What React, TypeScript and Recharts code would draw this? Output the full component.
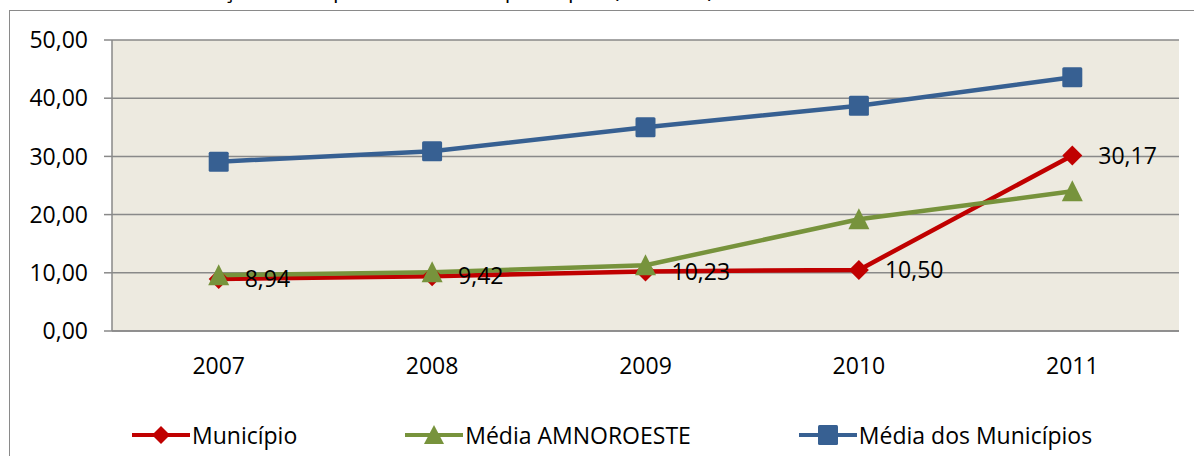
import React from 'react'
import { LineChart, Line, XAxis, YAxis, CartesianGrid, Legend, LabelList } from 'recharts'

const years = ['2007', '2008', '2009', '2010', '2011']
const municipio = [8.94, 9.42, 10.23, 10.5, 30.17]
const mediaAmnoroeste = [9.6, 10.1, 11.3, 19.2, 24.0]
const mediaMunicipios = [29.1, 30.9, 35.0, 38.7, 43.6]
const yTicks = [0, 10, 20, 30, 40, 50]
const yearTicks = [0, 1, 2, 3, 4]
const boundaryTicks = [-0.5, 0.5, 1.5, 2.5, 3.5, 4.5]

const RED = '#C00000'
const GREEN = '#77933C'
const BLUE = '#376092'
const GRID = '#898989'
const FONT = '"Open Sans", sans-serif'

const data = years.map((y, i) => ({
  idx: i,
  year: y,
  municipio: municipio[i],
  amnoroeste: mediaAmnoroeste[i],
  municipios: mediaMunicipios[i],
}))

const fmt = (v: number) => v.toFixed(2).replace('.', ',')

const Diamond = (props: any) => {
  const { cx, cy } = props
  if (cx == null || cy == null) return null
  const r = 10
  return <path d={`M${cx},${cy - r}L${cx + r},${cy}L${cx},${cy + r}L${cx - r},${cy}Z`} fill={RED} />
}

const Triangle = (props: any) => {
  const { cx, cy } = props
  if (cx == null || cy == null) return null
  return <path d={`M${cx},${cy - 11}L${cx + 10.5},${cy + 10}L${cx - 10.5},${cy + 10}Z`} fill={GREEN} />
}

const Square = (props: any) => {
  const { cx, cy } = props
  if (cx == null || cy == null) return null
  return <rect x={cx - 10} y={cy - 10} width={20} height={20} rx={1.5} fill={BLUE} />
}

const legendItems = [
  { name: 'Município', color: RED, shape: 'diamond' },
  { name: 'Média AMNOROESTE', color: GREEN, shape: 'triangle' },
  { name: 'Média dos Municípios', color: BLUE, shape: 'square' },
]

const LegendIcon = ({ color, shape }: { color: string; shape: string }) => (
  <svg width={60} height={24} style={{ display: 'block' }}>
    <line x1={1} y1={12} x2={59} y2={12} stroke={color} strokeWidth={4} />
    {shape === 'diamond' && <path d="M30,3L39,12L30,21L21,12Z" fill={color} />}
    {shape === 'triangle' && <path d="M30,2L40,21L20,21Z" fill={color} />}
    {shape === 'square' && <rect x={20} y={2} width={20} height={20} rx={1.5} fill={color} />}
  </svg>
)

const renderLegend = () => (
  <div style={{ display: 'flex', paddingLeft: 131, paddingTop: 17, fontFamily: FONT, fontSize: 23, color: '#000' }}>
    {legendItems.map((it, i) => (
      <div key={it.name} style={{ display: 'flex', alignItems: 'center', marginLeft: i === 0 ? 0 : 107 }}>
        <LegendIcon color={it.color} shape={it.shape} />
        <span style={{ marginLeft: 1, lineHeight: '24px' }}>{it.name}</span>
      </div>
    ))}
  </div>
)

export default function App() {
  return (
    <div style={{ position: 'fixed', left: 0, top: 0, width: 1194, height: 456, overflow: 'hidden', background: '#fff' }}>
      <div
        style={{
          position: 'absolute',
          left: 9,
          top: 10,
          width: 1200,
          height: 460,
          border: '1.5px solid #8a8a8a',
          boxSizing: 'border-box',
        }}
      />
      {/* title is mostly cropped off in the source image */}
      <div
        style={{
          position: 'absolute',
          left: 168,
          top: -26,
          fontFamily: FONT,
          fontSize: 22,
          whiteSpace: 'nowrap',
          color: '#000',
        }}
      >
        Evolução da despesa com saúde per capita (em reais)
      </div>
      <div style={{ position: 'absolute', left: 0, top: 0 }}>
        <LineChart width={1194} height={456} data={data} margin={{ top: 40, right: 15, bottom: 0, left: 0 }}>
          <CartesianGrid horizontal vertical={false} stroke={GRID} strokeWidth={1.5} fill="#EDEAE0" fillOpacity={1} />
          <XAxis
            xAxisId="b"
            dataKey="idx"
            type="number"
            domain={[-0.5, 4.5]}
            ticks={boundaryTicks}
            allowDataOverflow
            tick={false}
            tickSize={8}
            height={8}
            axisLine={{ stroke: GRID, strokeWidth: 1.5 }}
            tickLine={{ stroke: GRID, strokeWidth: 1.5 }}
          />
          <XAxis
            xAxisId="l"
            dataKey="idx"
            type="number"
            domain={[-0.5, 4.5]}
            ticks={yearTicks}
            allowDataOverflow
            interval={0}
            tickFormatter={(v: number) => years[v]}
            axisLine={false}
            tickLine={false}
            tickSize={0}
            tickMargin={19}
            height={67}
            tick={{ fill: '#000', fontSize: 23, fontFamily: FONT }}
          />
          <YAxis
            domain={[0, 50]}
            ticks={yTicks}
            width={112}
            tickSize={8}
            tickMargin={16}
            tickFormatter={fmt}
            axisLine={{ stroke: GRID, strokeWidth: 1.5 }}
            tickLine={{ stroke: GRID, strokeWidth: 1.5 }}
            tick={{ fill: '#000', fontSize: 23, fontFamily: FONT }}
          />
          <Legend verticalAlign="bottom" height={50} content={renderLegend} />
          <Line
            xAxisId="l"
            dataKey="municipio"
            name="Município"
            stroke={RED}
            strokeWidth={4.5}
            dot={<Diamond />}
            activeDot={false}
            isAnimationActive={false}
          >
            <LabelList
              dataKey="municipio"
              position="right"
              offset={26}
              formatter={(v: any) => fmt(Number(v))}
              style={{ fill: '#000', fontSize: 23, fontFamily: FONT }}
            />
          </Line>
          <Line
            xAxisId="l"
            dataKey="amnoroeste"
            name="Média AMNOROESTE"
            stroke={GREEN}
            strokeWidth={4.5}
            dot={<Triangle />}
            activeDot={false}
            isAnimationActive={false}
          />
          <Line
            xAxisId="l"
            dataKey="municipios"
            name="Média dos Municípios"
            stroke={BLUE}
            strokeWidth={4.5}
            dot={<Square />}
            activeDot={false}
            isAnimationActive={false}
          />
        </LineChart>
      </div>
    </div>
  )
}
